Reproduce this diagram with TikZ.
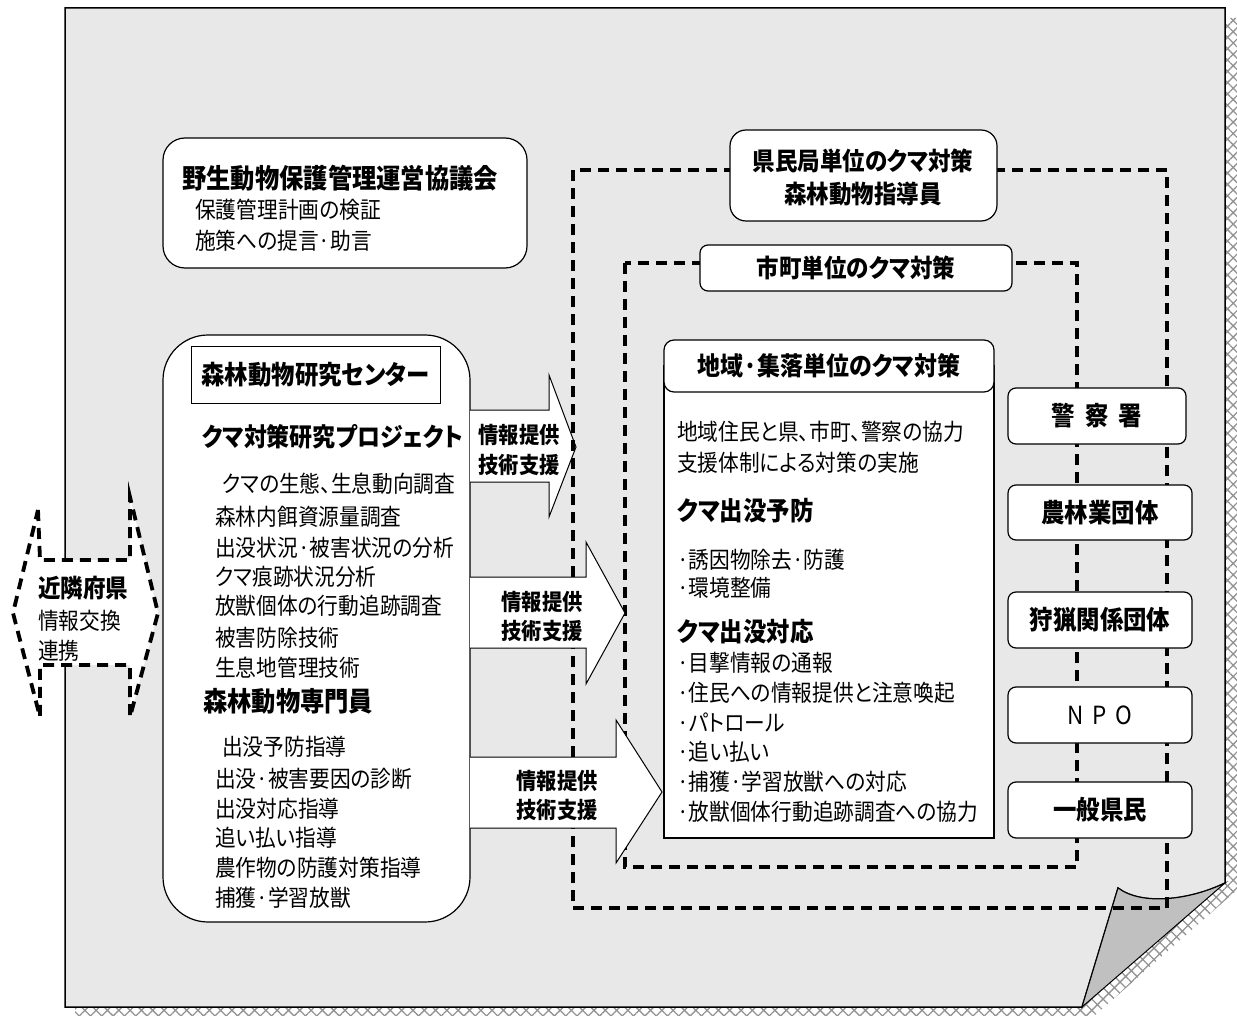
\documentclass[tikz,border=0pt]{standalone}
\usepackage{fontspec}
\setmainfont{Noto Sans CJK JP}[FakeStretch=0.9,RawFeature=+palt]
\usetikzlibrary{patterns.meta}
\definecolor{pagegray}{HTML}{E8E8E8}
\definecolor{flapgray}{HTML}{C0C0C0}
\begin{document}
\begin{tikzpicture}[x=1pt,y=-1pt,
  every node/.style={inner sep=0pt},
  reg/.style={anchor=west,font=\fontsize{23}{25}\selectfont},
  bld/.style={anchor=west,font=\bfseries\fontsize{26}{28}\selectfont},
  bldc/.style={anchor=center,font=\bfseries\fontsize{25}{27}\selectfont},
  arrtxt/.style={anchor=center,font=\bfseries\fontsize{22.5}{24}\selectfont},
  rbox/.style={draw,fill=white,line width=1.2pt,rounded corners=8pt},
  dsh/.style={line width=3.8pt,dash pattern=on 11pt off 7pt},
  blockarrow/.style={draw,fill=white,line width=1pt}]
\useasboundingbox (0,0) rectangle (1237,1016);

% page shadow
\fill[pattern={Hatch[angle=45,distance=8pt,line width=1.3pt]},pattern color=gray!85]
  (75,18) -- (1237,18) -- (1237,890) -- (1094,1016) -- (75,1016) -- cycle;
% page
\draw[fill=pagegray,line width=1.5pt] (65,8) -- (1225,8) -- (1225,883)
  .. controls (1190,900) and (1142,906) .. (1118,888) -- (1082,1007) -- (65,1007) -- cycle;
% curl flap
\draw[fill=flapgray,line width=1pt] (1118,888) .. controls (1142,906) and (1190,900) .. (1225,883)
  -- (1082,1007) -- cycle;

% council box
\draw[fill=white,line width=1.2pt,rounded corners=22pt] (163,138) rectangle (527,268);
\node[bld,font=\bfseries\fontsize{27}{29}\selectfont] (council) at (182,178) {野生動物保護管理運営協議会};
\node[reg] (c1) at (195,210) {保護管理計画の検証};
\node[reg] (c2) at (195,241) {施策への提言·助言};

% research center box
\draw[fill=white,line width=1.2pt,rounded corners=45pt] (163,335) rectangle (470,922);
\node[draw,fill=white,line width=1pt,minimum width=249pt,minimum height=57pt,
  font=\bfseries\fontsize{26}{28}\selectfont] (rc) at (315.5,374.5) {森林動物研究センター};
\node[bld,font=\bfseries\fontsize{25.5}{27}\selectfont] (proj) at (202,437) {クマ対策研究プロジェクト};
\node[reg] (p1) at (222,484) {クマの生態、生息動向調査};
\node[reg] (p2) at (215,517) {森林内餌資源量調査};
\node[reg] (p3) at (215,548) {出没状況·被害状況の分析};
\node[reg] (p4) at (215,577) {クマ痕跡状況分析};
\node[reg] (p5) at (215,606) {放獣個体の行動追跡調査};
\node[reg] (p6) at (215,638) {被害防除技術};
\node[reg] (p7) at (215,668) {生息地管理技術};
\node[bld,font=\bfseries\fontsize{27}{29}\selectfont] (spec) at (203,701) {森林動物専門員};
\node[reg] (s1) at (222,747) {出没予防指導};
\node[reg] (s2) at (215,779) {出没·被害要因の診断};
\node[reg] (s3) at (215,809) {出没対応指導};
\node[reg] (s4) at (215,838) {追い払い指導};
\node[reg] (s5) at (215,868) {農作物の防護対策指導};
\node[reg] (s6) at (215,898) {捕獲·学習放獣};

% arrow 1 (under dashed frame)
\draw[blockarrow] (470,410) -- (549,410) -- (549,375) -- (576,447) -- (549,517) -- (549,482) -- (470,482);
\node[arrtxt] (a1a) at (519,435) {情報提供};
\node[arrtxt] (a1b) at (519,465) {技術支援};

% dashed frames
\draw[dsh] (573,170) rectangle (1167,908);
\draw[dsh] (625,263) rectangle (1077,867);

% arrows 2 and 3
\draw[blockarrow] (470,577) -- (586,577) -- (586,542) -- (625,613) -- (586,684) -- (586,648) -- (470,648);
\node[arrtxt] (a2a) at (542,602) {情報提供};
\node[arrtxt] (a2b) at (542,631) {技術支援};
\draw[blockarrow] (470,757) -- (616,757) -- (616,720) -- (662,792) -- (616,863) -- (616,828) -- (470,828);
\node[arrtxt] (a3a) at (557,781) {情報提供};
\node[arrtxt] (a3b) at (557,810) {技術支援};

% prefecture-office box
\node[rbox,rounded corners=16pt,minimum width=267pt,minimum height=91pt] (kenmin) at (863.5,175.5) {};
\node[bldc] (k1) at (863,161) {県民局単位のクマ対策};
\node[bldc] (k2) at (863,194) {森林動物指導員};
% municipality box
\node[rbox,minimum width=312pt,minimum height=46pt,font=\bfseries\fontsize{25}{27}\selectfont] (shicho) at (856,268) {市町単位のクマ対策};

% community box
\draw[fill=white,line width=1.2pt] (664,366) rectangle (994,838);
\node[rbox,rounded corners=10pt,minimum width=330pt,minimum height=52pt,font=\bfseries\fontsize{25.5}{27}\selectfont] (chiiki) at (829,366) {地域·集落単位のクマ対策};
\node[reg] (r1) at (677,432) {地域住民と県、市町、警察の協力};
\node[reg] (r2) at (677,463) {支援体制による対策の実施};
\node[bld] (r3) at (677,511) {クマ出没予防};
\node[reg] (r4) at (677,560) {·誘因物除去·防護};
\node[reg] (r5) at (677,588) {·環境整備};
\node[bld] (r6) at (677,632) {クマ出没対応};
\node[reg] (r7) at (677,663) {·目撃情報の通報};
\node[reg] (r8) at (677,693) {·住民への情報提供と注意喚起};
\node[reg] (r9) at (677,723) {·パトロール};
\node[reg] (r10) at (677,752) {·追い払い};
\node[reg] (r11) at (677,782) {·捕獲·学習放獣への対応};
\node[reg] (r12) at (677,812) {·放獣個体行動追跡調査への協力};

% right-side boxes
\node[rbox,minimum width=178pt,minimum height=56pt,font=\bfseries\fontsize{26}{28}\selectfont] (police) at (1097,416) {警\hspace{10pt}察\hspace{10pt}署};
\node[rbox,minimum width=184pt,minimum height=55pt,font=\bfseries\fontsize{26}{28}\selectfont] (farm) at (1100,512.5) {農林業団体};
\node[rbox,minimum width=184pt,minimum height=56pt,font=\bfseries\fontsize{26}{28}\selectfont] (hunt) at (1100,620) {狩猟関係団体};
\node[rbox,minimum width=184pt,minimum height=56pt,font=\fontsize{25}{27}\selectfont] (npo) at (1100,715) {N\hspace{9pt}P\hspace{9pt}O};
\node[rbox,minimum width=184pt,minimum height=56pt,font=\bfseries\fontsize{26}{28}\selectfont] (gen) at (1100,810) {一般県民};

% neighbouring prefectures double arrow
\draw[dsh,fill=white] (38,510) -- (40,560) -- (130,560) -- (130,497) -- (158,613) -- (130,717)
  -- (130,665) -- (40,665) -- (40,717) -- (13,613) -- cycle;
\node[bld,font=\bfseries\fontsize{25}{27}\selectfont] (kinrin) at (38,588) {近隣府県};
\node[reg] (kr1) at (38,621) {情報交換};
\node[reg] (kr2) at (38,651) {連携};
\end{tikzpicture}
\end{document}
